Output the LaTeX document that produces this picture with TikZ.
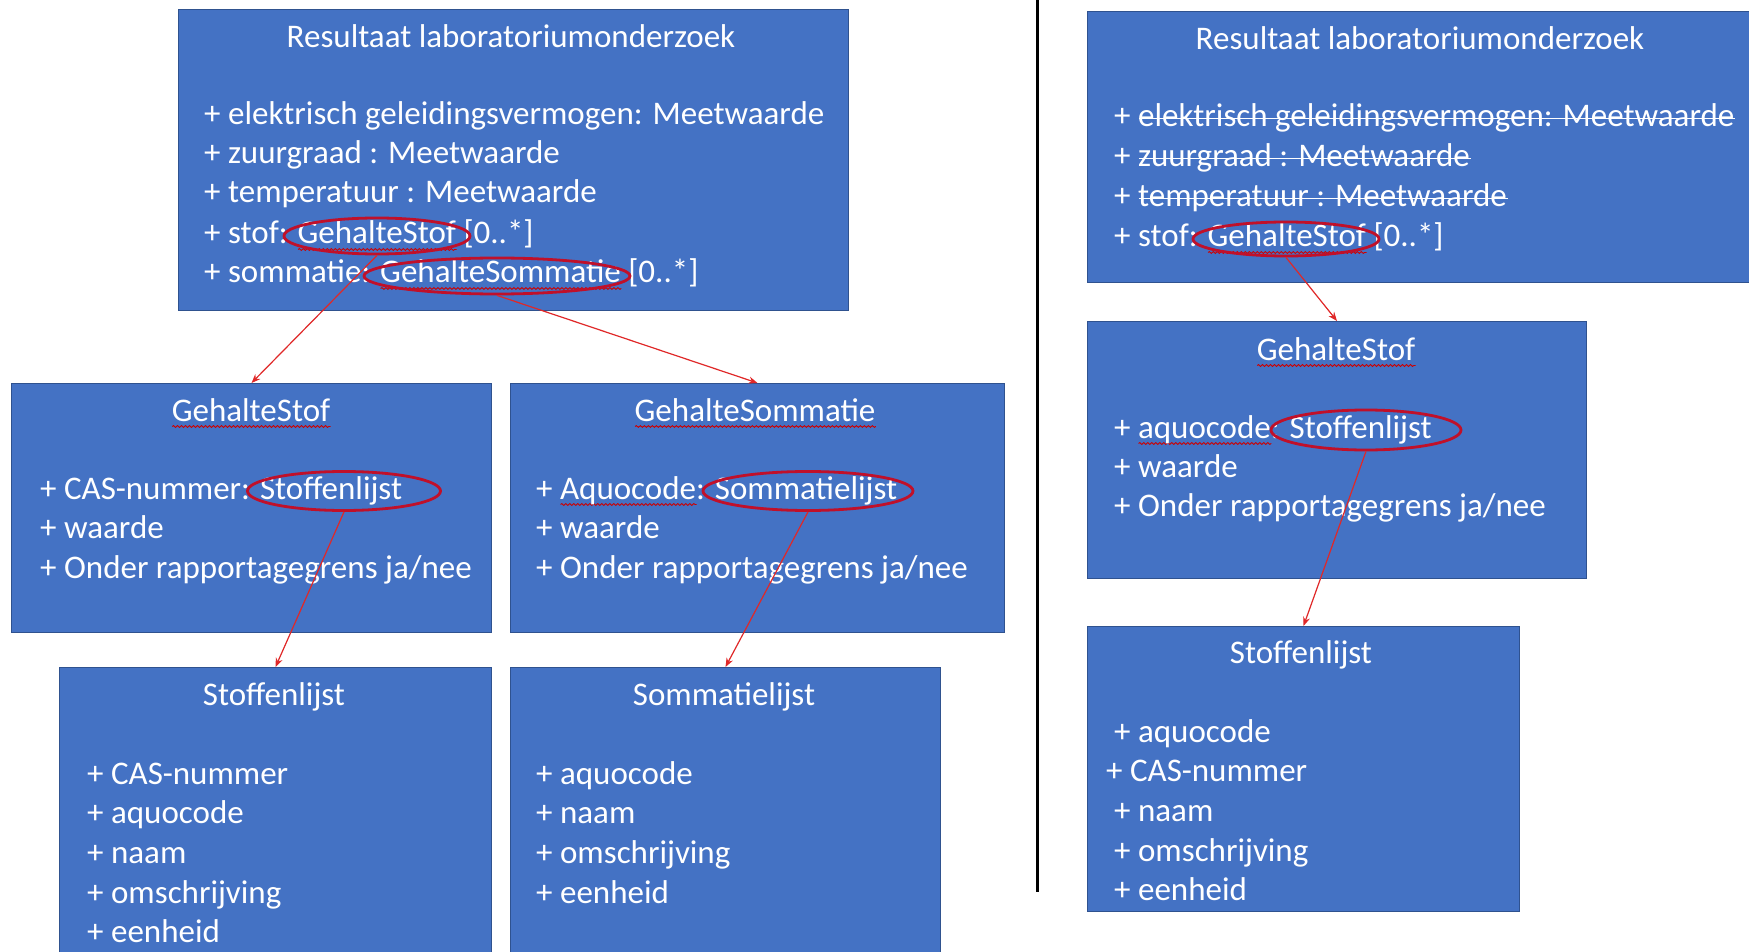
\documentclass[tikz,border=0pt]{standalone}
\usepackage{fontspec}
\setmainfont{Carlito}
\usetikzlibrary{shapes.geometric,decorations.pathmorphing,arrows.meta}
\definecolor{boxblue}{HTML}{4472C4}
\definecolor{boxedge}{HTML}{2F528F}
\definecolor{ovalred}{HTML}{C0102A}
\definecolor{arrred}{HTML}{E02828}
\newsavebox\wvbox
\newdimen\wvwd
\newcommand\wv[1]{\sbox\wvbox{#1}\wvwd=\wd\wvbox\rlap{\tikz[baseline=0pt]\draw[red!80!black,line width=0.9pt,decorate,decoration={snake,amplitude=0.9pt,segment length=4pt}] (0pt,-5.5pt) -- (\wvwd,-5.5pt);}\usebox\wvbox}
\newcommand\strk[1]{\sbox\wvbox{#1}\wvwd=\wd\wvbox\rlap{\tikz[baseline=0pt]\draw[white,line width=1.6pt] (0pt,8.5pt) -- (\wvwd,8.5pt);}\usebox\wvbox}
\tikzset{
  box/.style={draw=boxedge, fill=boxblue, line width=1pt, anchor=north west, inner sep=0pt},
  txt/.style={text=white, font=\fontsize{33}{39}\selectfont, inner sep=0pt, anchor=base west, yshift=-3pt},
  ttl/.style={txt, anchor=base},
  oval/.style={draw=ovalred, line width=2.8pt, ellipse, inner sep=0pt, yshift=-3pt},
  arr/.style={draw=arrred, line width=1.2pt, -{Stealth[length=9pt,width=7pt]}}
}
\begin{document}
\begin{tikzpicture}[x=1pt,y=-1pt]
\useasboundingbox (0,0) rectangle (1749,952);
\fill[white] (0,0) rectangle (1749,952);
% divider
\draw[black,line width=3pt] (1037,0) -- (1037,892);
% ---------- left side ----------
\node[box, minimum width=670pt, minimum height=301pt] (r1) at (178,9) {};
\node[box, minimum width=480pt, minimum height=249pt] (gs1) at (11,383) {};
\node[box, minimum width=494pt, minimum height=249pt] (gsom) at (510,383) {};
\node[box, minimum width=432pt, minimum height=300pt] (sl1) at (59,667) {};
\node[box, minimum width=430pt, minimum height=300pt] (soml) at (510,667) {};

\node[ttl] (r1t) at (511,45) {Resultaat laboratoriumonderzoek};
\node[txt] (r1a) at (204,122) {+ elektrisch geleidingsvermogen: Meetwaarde};
\node[txt] (r1b) at (204,161) {+ zuurgraad : Meetwaarde};
\node[txt] (r1c) at (204,200) {+ temperatuur : Meetwaarde};
\node[txt] (r1d) at (204,241) {+ stof: \wv{GehalteStof} [0..*]};
\node[txt] (r1e) at (204,280) {+ sommatie: \wv{GehalteSommatie} [0..*]};

\node[ttl] (gs1t) at (251,418) {\wv{GehalteStof}};
\node[txt] (gs1a) at (40,496) {+ CAS-nummer: Stoffenlijst};
\node[txt] (gs1b) at (40,535) {+ waarde};
\node[txt] (gs1c) at (40,575) {+ Onder rapportagegrens ja/nee};

\node[ttl] (gsomt) at (755,418) {\wv{GehalteSommatie}};
\node[txt] (gsoma) at (536,496) {+ \wv{Aquocode}: Sommatielijst};
\node[txt] (gsomb) at (536,535) {+ waarde};
\node[txt] (gsomc) at (536,575) {+ Onder rapportagegrens ja/nee};

\node[ttl] (sl1t) at (274,702) {Stoffenlijst};
\node[txt] (sl1a) at (87,781) {+ CAS-nummer};
\node[txt] (sl1b) at (87,820) {+ aquocode};
\node[txt] (sl1c) at (87,860) {+ naam};
\node[txt] (sl1d) at (87,900) {+ omschrijving};
\node[txt] (sl1e) at (87,939) {+ eenheid};

\node[ttl] (somlt) at (724,702) {Sommatielijst};
\node[txt] (somla) at (536,781) {+ aquocode};
\node[txt] (somlb) at (536,820) {+ naam};
\node[txt] (somlc) at (536,860) {+ omschrijving};
\node[txt] (somld) at (536,900) {+ eenheid};

\node[oval, minimum width=186pt, minimum height=36pt] (e1) at (377,233) {};
\node[oval, minimum width=266pt, minimum height=36pt] (e2) at (497,273) {};
\node[oval, minimum width=193pt, minimum height=39pt] (e3) at (344,488) {};
\node[oval, minimum width=210pt, minimum height=39pt] (e4) at (808,488) {};

\draw[arr] (e1.south) -- (gs1.north);
\draw[arr] (e2.south) -- (gsom.north);
\draw[arr] (e3.south) -- (sl1.north);
\draw[arr] (e4.south) -- (soml.north);

% ---------- right side ----------
\node[box, minimum width=673pt, minimum height=271pt] (r2) at (1087,11) {};
\node[box, minimum width=499pt, minimum height=257pt] (gs2) at (1087,321) {};
\node[box, minimum width=432pt, minimum height=285pt] (sl2) at (1087,626) {};

\node[ttl] (r2t) at (1420,47) {Resultaat laboratoriumonderzoek};
\node[txt] (r2a) at (1114,124) {+ \strk{elektrisch geleidingsvermogen: Meetwaarde}};
\node[txt] (r2b) at (1114,164) {+ \strk{zuurgraad : Meetwaarde}};
\node[txt] (r2c) at (1114,204) {+ \strk{temperatuur : Meetwaarde}};
\node[txt] (r2d) at (1114,244) {+ stof: \wv{GehalteStof} [0..*]};

\node[ttl] (gs2t) at (1336,357) {\wv{GehalteStof}};
\node[txt] (gs2a) at (1114,435) {+ \wv{aquocode}: Stoffenlijst};
\node[txt] (gs2b) at (1114,474) {+ waarde};
\node[txt] (gs2c) at (1114,513) {+ Onder rapportagegrens ja/nee};

\node[ttl] (sl2t) at (1301,660) {Stoffenlijst};
\node[txt] (sl2a) at (1114,739) {+ aquocode};
\node[txt] (sl2b) at (1106,778) {+ CAS-nummer};
\node[txt] (sl2c) at (1114,818) {+ naam};
\node[txt] (sl2d) at (1114,858) {+ omschrijving};
\node[txt] (sl2e) at (1114,897) {+ eenheid};

\node[oval, minimum width=186pt, minimum height=34pt] (e5) at (1286,236) {};
\node[oval, minimum width=190pt, minimum height=40pt] (e6) at (1366,427) {};

\draw[arr] (e5.south) -- (gs2.north);
\draw[arr] (e6.south) -- (sl2.north);
\end{tikzpicture}
\end{document}
